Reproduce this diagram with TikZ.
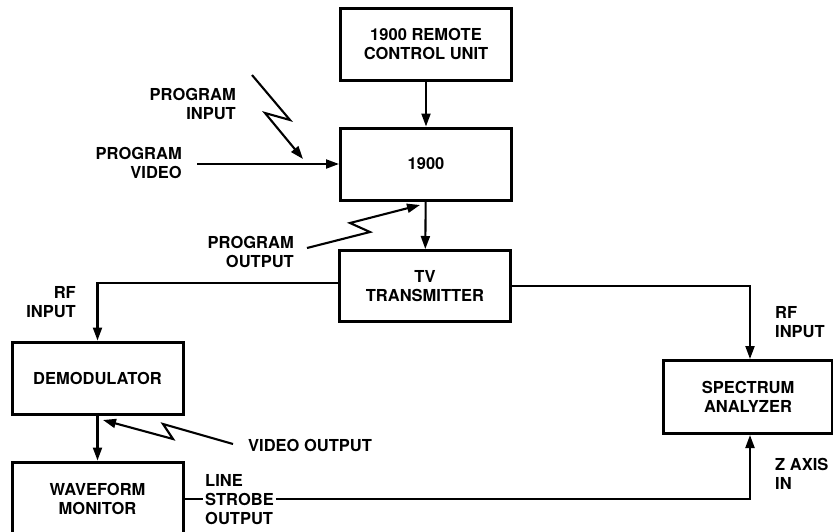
\documentclass[tikz,border=0pt]{standalone}
\usepackage{fontspec}
\setmainfont{TeX Gyre Heros}
\usetikzlibrary{arrows.meta,positioning}

\begin{document}
\begin{tikzpicture}[x=1pt,y=-1pt,
  font=\fontsize{16.5}{19}\selectfont\bfseries,
  unit/.style={rectangle,draw,line width=3pt,minimum width=171pt,minimum height=72pt,align=center,inner sep=0pt},
  sig/.style={->,line width=2.1pt},
  wire/.style={line width=2.1pt},
  tag/.style={inner sep=0pt},
  >={Triangle[length=13pt,width=9pt]}]
\useasboundingbox (0,0) rectangle (833,531);

% Units
\node[unit] (remote) at (426,44) {1900 REMOTE\\CONTROL UNIT};
\node[unit] (main) at (426,164) {1900};
\node[unit,minimum height=71pt] (tv) at (425,286) {TV\\TRANSMITTER};
\node[unit] (demod) at (97.5,378) {DEMODULATOR};
\node[unit,minimum height=74pt] (wfm) at (97.5,499) {WAVEFORM\\MONITOR};
\node[unit,minimum width=169pt,minimum height=73pt] (spec) at (748,397) {SPECTRUM\\ANALYZER};

% Labels
\node[tag,align=right,anchor=east] (proginlbl) at (236,104) {PROGRAM\\INPUT};
\node[tag,align=right,anchor=east] (vidinlbl) at (182,163) {PROGRAM\\VIDEO};
\node[tag,align=right,anchor=east] (progoutlbl) at (294,252) {PROGRAM\\OUTPUT};
\node[tag,align=right,anchor=east] (rfleft) at (76,302) {RF\\INPUT};
\node[tag,align=left,anchor=west] (rfright) at (775,322) {RF\\INPUT};
\node[tag,align=left,anchor=west] (zaxis) at (775,474) {Z AXIS\\IN};
\node[tag,anchor=west] (vidoutlbl) at (248,445) {VIDEO OUTPUT};
\node[tag,align=left,anchor=west,inner xsep=2pt] (strobe) at (203,500) {LINE\\STROBE\\OUTPUT};

% Free ends
\coordinate (progin) at (252,75);
\coordinate (progintip) at (303,159);
\coordinate (vidin) at (197,164);
\coordinate (progout) at (307,248);
\coordinate (progouttip) at (420,205);
\coordinate (vidout) at (233,444);
\coordinate (vidouttip) at (103,420);

% Signal paths
\draw[sig] (remote) -- (main);
\draw[sig] (main) -- (tv);
\draw[sig] (vidin) -- (main.west);
\draw[sig] ([yshift=3pt]tv.west) -| (demod.north);
\draw[sig] (tv.east) -| ([xshift=2pt]spec.north);
\draw[sig] (demod) -- (wfm);
\draw[wire] (wfm.east) -- (wfm.east -| strobe.west);
\draw[sig] (wfm.east -| strobe.east) -| ([xshift=2pt]spec.south);

% Zigzag links
\draw[sig] (progin) -- (290,120) -- (265,113) -- (progintip);
\draw[sig] (progout) -- (370,232) -- (350,223) -- (progouttip);
\draw[sig] (vidout) -- (163,424) -- (173,439) -- (vidouttip);

\end{tikzpicture}
\end{document}
